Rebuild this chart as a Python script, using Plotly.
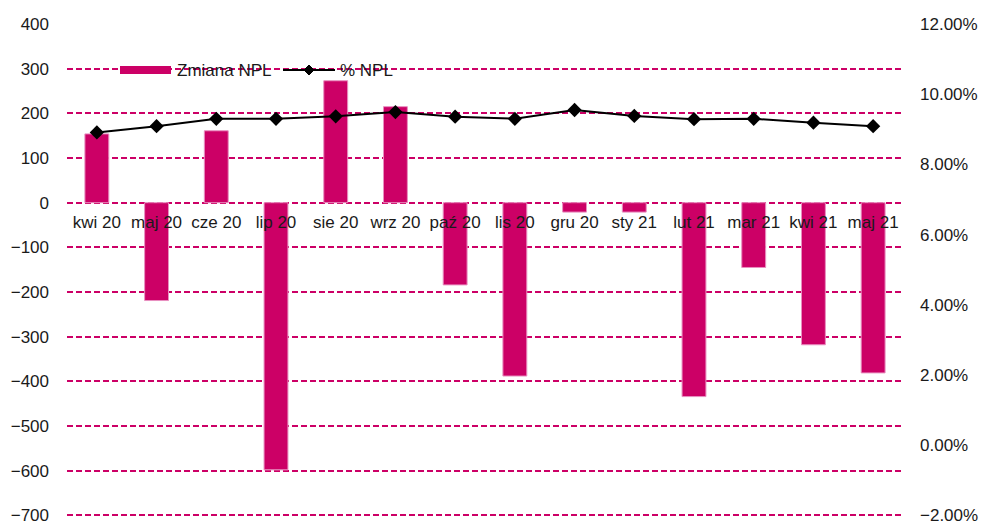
import plotly.graph_objects as go

categories = ["kwi 20", "maj 20", "cze 20", "lip 20", "sie 20", "wrz 20", "paź 20",
              "lis 20", "gru 20", "sty 21", "lut 21", "mar 21", "kwi 21", "maj 21"]
zmiana_npl = [154, -219, 161, -598, 273, 215, -184, -388, -21, -21, -434, -145, -318, -381]
pct_npl = [8.91, 9.09, 9.30, 9.30, 9.37, 9.49, 9.36, 9.30, 9.55, 9.38, 9.29, 9.30, 9.19, 9.09]
pct_npl = [v / 100 for v in pct_npl]

left_ticks = list(range(-700, 401, 100))
right_ticks = [-0.02, 0.0, 0.02, 0.04, 0.06, 0.08, 0.10, 0.12]

MAGENTA = "#CC0066"
FONT = "Liberation Sans, Arial, sans-serif"
TXT = "#1a1a1a"
FS = 17

W, H = 984, 523
PAD = 8  # value units of padding below -700
ML, MR, MT = 67, 81, 24
PX_PER_UNIT = 491 / 1100
MB = round(8 - PAD * PX_PER_UNIT)
PW, PH = W - ML - MR, H - MT - MB

y_lo, y_hi = -700 - PAD, 400
r_lo = -0.02 + (y_lo + 700) / 1100 * 0.14
r_hi = 0.12


def px(x):
    return (x - ML) / PW


def py(y):
    return (H - MB - y) / PH


fig = go.Figure()
fig.add_trace(go.Bar(
    x=categories, y=zmiana_npl, name="Zmiana NPL",
    marker=dict(color=MAGENTA, line=dict(color="#E890C0", width=1)),
    width=0.4, yaxis="y", showlegend=False,
))
fig.add_trace(go.Scatter(
    x=categories, y=pct_npl, name="% NPL", mode="lines+markers",
    line=dict(color="black", width=2),
    marker=dict(symbol="diamond", size=11, color="black"),
    yaxis="y2", showlegend=False,
))

zero_frac = (0 - y_lo) / (y_hi - y_lo)

# custom legend (swatches + labels)
shapes = [
    dict(type="rect", xref="paper", yref="paper",
         x0=px(120), x1=px(171), y0=py(74), y1=py(66),
         fillcolor=MAGENTA, line=dict(width=0)),
    dict(type="line", xref="paper", yref="paper",
         x0=px(283), x1=px(335), y0=py(70), y1=py(70),
         line=dict(color="black", width=2)),
    dict(type="path", xref="paper", yref="paper",
         xsizemode="pixel", ysizemode="pixel",
         xanchor=px(309), yanchor=py(70),
         path="M -5 0 L 0 5 L 5 0 L 0 -5 Z",
         fillcolor="black", line=dict(color="black", width=1)),
]
annotations = [
    dict(text="Zmiana NPL", xref="paper", yref="paper", x=px(175), y=py(70),
         xanchor="left", yanchor="middle", showarrow=False,
         font=dict(size=FS, color=TXT, family=FONT)),
    dict(text="% NPL", xref="paper", yref="paper", x=px(338), y=py(70),
         xanchor="left", yanchor="middle", showarrow=False,
         font=dict(size=FS, color=TXT, family=FONT)),
]

fig.update_layout(
    width=W, height=H,
    margin=dict(l=ML, r=MR, t=MT, b=MB, autoexpand=False),
    paper_bgcolor="white", plot_bgcolor="white",
    font=dict(family=FONT, size=FS, color=TXT),
    showlegend=False,
    shapes=shapes, annotations=annotations,
    xaxis=dict(
        type="category", anchor="free", position=zero_frac,
        showgrid=False, showline=False, ticks="", zeroline=False,
        tickfont=dict(size=FS), range=[-0.5, len(categories) - 0.5],
        ticklabelstandoff=7,
    ),
    yaxis=dict(
        range=[y_lo, y_hi], tickvals=left_ticks,
        showgrid=True, gridcolor=MAGENTA, gridwidth=1.5, griddash="6px,3px",
        zeroline=False, showline=False, ticks="",
        ticklabelstandoff=17, tickfont=dict(size=FS),
        ticklabeloverflow="allow",
    ),
    yaxis2=dict(
        range=[r_lo, r_hi], tickvals=right_ticks, tickformat=".2%",
        overlaying="y", side="right", showgrid=False, zeroline=False,
        showline=False, ticks="", ticklabelstandoff=16, tickfont=dict(size=FS),
        ticklabeloverflow="allow",
    ),
)

fig.write_html("out.html", config={"displayModeBar": False},
               post_script="document.body.style.margin='0';document.body.style.padding='0';")
